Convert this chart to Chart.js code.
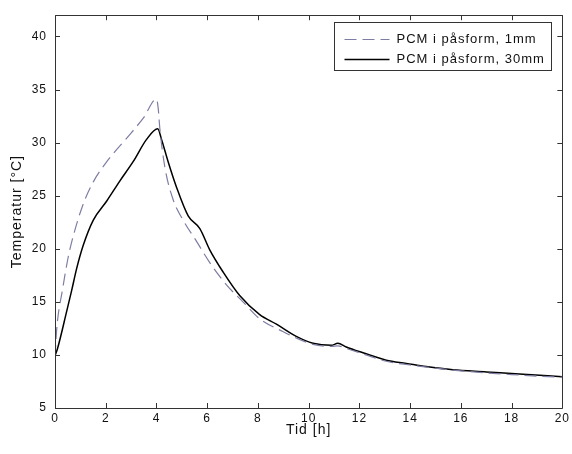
<!DOCTYPE html>
<html>
<head>
<meta charset="utf-8">
<script src="https://cdn.jsdelivr.net/npm/chart.js@4.4.1/dist/chart.umd.min.js"></script>
<style>
  html, body { margin: 0; padding: 0; background: #fff; }
  #wrap { width: 572px; height: 454px; }
</style>
</head>
<body>
<div id="wrap"><canvas id="c" width="572" height="454"></canvas></div>
<script>
// ---- Data ----
const label1mm = "PCM i påsform, 1mm";
const label30mm = "PCM i påsform, 30mm";

const time1mm = [0, 0.07, 0.3, 0.52, 0.72, 1.11, 1.51, 2.04, 2.82, 3.48, 4.0, 4.07, 4.13, 4.33, 4.66, 5.05, 5.58, 6.1, 6.76, 7.41, 8.07, 8.98, 9.5, 10.17, 10.9, 11.15, 11.5, 12.14, 13.06, 14.0, 15.0, 16.0, 17.0, 18.0, 19.0, 20.0];
const temp1mm = [9.8, 12.5, 16.2, 19.2, 21.2, 24.2, 26.3, 28.2, 30.4, 32.3, 34.1, 33.2, 31.4, 27.7, 24.6, 22.7, 20.7, 18.7, 16.6, 15.0, 13.4, 12.2, 11.6, 11.0, 10.8, 10.85, 10.6, 10.1, 9.4, 9.05, 8.75, 8.5, 8.3, 8.15, 8.0, 7.9];

const time30mm = [0, 0.1, 0.46, 0.66, 0.85, 1.11, 1.51, 2.04, 2.56, 3.08, 3.61, 4.05, 4.2, 4.46, 4.79, 5.25, 5.71, 6.1, 6.63, 7.28, 8.07, 8.73, 9.51, 10.17, 10.89, 11.15, 11.48, 12.14, 13.06, 13.85, 14.63, 15.68, 17.0, 18.3, 20.0];
const temp30mm = [9.9, 10.6, 14.1, 16.1, 18.1, 20.3, 22.7, 24.5, 26.4, 28.2, 30.3, 31.3, 30.3, 28.2, 25.8, 23.1, 21.9, 19.9, 17.8, 15.6, 13.8, 12.9, 11.75, 11.1, 10.9, 11.1, 10.75, 10.2, 9.5, 9.2, 8.9, 8.6, 8.4, 8.2, 7.95];

const xTicks = [0, 2, 4, 6, 8, 10, 12, 14, 16, 18, 20];
const yTicks = [5, 10, 15, 20, 25, 30, 35, 40];
const xTitle = "Tid [h]";
const yTitle = "Temperatur [°C]";

const toPoints = (ts, vs) => ts.map((t, i) => ({ x: t, y: vs[i] }));

const FONT = "'Liberation Sans', Arial, Helvetica, sans-serif";
const dashColor = "#7d7da3";
const frameColor = "#333";

const spacingPlugin = {
  id: "spacing",
  beforeDraw(chart) { chart.ctx.letterSpacing = "1px"; }
};

const framePlugin = {
  id: "frameTicks",
  afterDraw(chart) {
    const ctx = chart.ctx;
    const a = chart.chartArea;
    const xs = chart.scales.x, ys = chart.scales.y;
    ctx.save();
    ctx.strokeStyle = frameColor;
    ctx.lineWidth = 1;
    ctx.beginPath();
    ctx.rect(Math.round(a.left) + 0.5, Math.round(a.top) + 0.5, Math.round(a.right - a.left), Math.round(a.bottom - a.top));
    ctx.stroke();
    const L = 5;
    ctx.beginPath();
    xTicks.forEach(v => {
      const px = Math.round(xs.getPixelForValue(v)) + 0.5;
      ctx.moveTo(px, a.bottom); ctx.lineTo(px, a.bottom - L);
      ctx.moveTo(px, a.top); ctx.lineTo(px, a.top + L);
    });
    yTicks.forEach(v => {
      const py = Math.round(ys.getPixelForValue(v)) + 0.5;
      ctx.moveTo(a.left, py); ctx.lineTo(a.left + L, py);
      ctx.moveTo(a.right, py); ctx.lineTo(a.right - L, py);
    });
    ctx.stroke();

    // legend box (inside plot, top-right)
    const bw = 217, bh = 48;
    const bx = Math.round(a.right - 11 - bw) + 0.5;
    const by = Math.round(a.top + 7) + 0.5;
    ctx.fillStyle = "#fff";
    ctx.fillRect(bx, by, bw, bh);
    ctx.strokeStyle = frameColor;
    ctx.strokeRect(bx, by, bw, bh);
    const ds = chart.data.datasets;
    ctx.font = "13px " + FONT;
    ctx.letterSpacing = "1px";
    ctx.textBaseline = "middle";
    ctx.fillStyle = "#111";
    ds.forEach((d, i) => {
      const cy = by + 17 + i * 20;
      ctx.save();
      ctx.strokeStyle = d.borderColor;
      ctx.lineWidth = d.borderWidth;
      ctx.setLineDash(d.borderDash || []);
      ctx.beginPath();
      ctx.moveTo(bx + 10, cy); ctx.lineTo(bx + 55, cy);
      ctx.stroke();
      ctx.restore();
      ctx.fillText(d.label, bx + 62, cy);
    });
    ctx.restore();
  }
};

new Chart(document.getElementById("c"), {
  type: "scatter",
  data: {
    datasets: [
      {
        label: label1mm,
        data: toPoints(time1mm, temp1mm),
        showLine: true,
        borderColor: dashColor,
        borderWidth: 1.2,
        borderDash: [12, 6],
        pointRadius: 0,
        cubicInterpolationMode: "monotone",
        fill: false
      },
      {
        label: label30mm,
        data: toPoints(time30mm, temp30mm),
        showLine: true,
        borderColor: "#000",
        borderWidth: 1.5,
        pointRadius: 0,
        cubicInterpolationMode: "monotone",
        fill: false
      }
    ]
  },
  options: {
    responsive: false,
    animation: false,
    devicePixelRatio: 1,
    layout: { padding: { left: 0, right: 9, top: 8, bottom: 0 } },
    plugins: { legend: { display: false }, tooltip: { enabled: false } },
    scales: {
      x: {
        type: "linear",
        min: 0, max: 20,
        afterBuildTicks: s => { s.ticks = xTicks.map(v => ({ value: v })); },
        afterFit: s => { s.height = 46; },
        grid: { display: false, drawTicks: false },
        border: { display: false },
        ticks: { color: "#111", font: { family: FONT, size: 12 }, padding: 3, maxRotation: 0, autoSkip: false },
        title: { display: true, text: xTitle, color: "#111", font: { family: FONT, size: 14 }, padding: { top: 0, bottom: 15 } }
      },
      y: {
        type: "linear",
        min: 5, max: 42,
        afterBuildTicks: s => { s.ticks = yTicks.map(v => ({ value: v })); },
        afterFit: s => { s.width = 55; },
        grid: { display: false, drawTicks: false },
        border: { display: false },
        ticks: { color: "#111", font: { family: FONT, size: 12 }, padding: 8, autoSkip: false },
        title: { display: true, text: yTitle, color: "#111", font: { family: FONT, size: 14 }, padding: { top: 9, bottom: 0 } }
      }
    }
  },
  plugins: [spacingPlugin, framePlugin]
});
</script>
</body>
</html>
